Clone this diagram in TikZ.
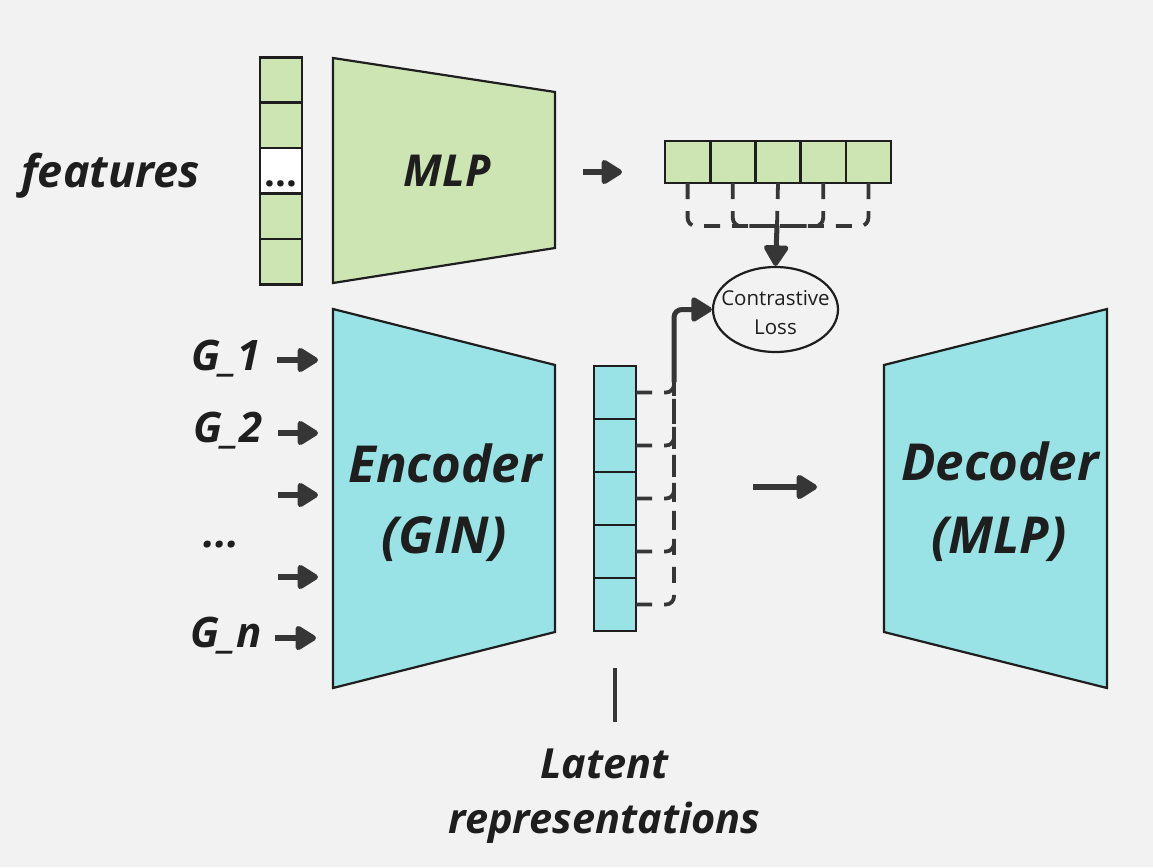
\documentclass[tikz,border=0pt]{standalone}
\usepackage{fontspec}
\setmainfont{Open Sans}
\usetikzlibrary{arrows.meta,shapes.geometric}
\definecolor{bg}{HTML}{F2F2F2}
\definecolor{grn}{HTML}{CDE5B3}
\definecolor{cyn}{HTML}{99E3E6}
\definecolor{ink}{HTML}{1E1E1E}
\definecolor{arr}{HTML}{363636}
\tikzset{
  trap/.style={draw=ink, line width=2.2pt, line join=miter},
  cellg/.style={draw=ink, fill=grn, line width=2.6pt, minimum width=42, minimum height=45.4, inner sep=0, outer sep=0},
  cellr/.style={draw=ink, fill=grn, line width=2.6pt, minimum width=45.2, minimum height=42, inner sep=0, outer sep=0},
  cellc/.style={draw=ink, fill=cyn, line width=2.6pt, minimum width=42, minimum height=53, inner sep=0, outer sep=0},
  tip/.style={-{Triangle[length=23pt,width=27pt,round]}},
  bigarrow/.style={draw=arr, line width=5.4pt, tip},
  dsh/.style={draw=arr, line width=3.8pt, dash pattern=on 16pt off 12pt, rounded corners=8pt},
  lbl/.style={inner sep=0, anchor=base, text=ink, font=\bfseries\itshape},
}
\begin{document}
\begin{tikzpicture}[x=1pt,y=-1pt]
\fill[bg] (0,0) rectangle (1153,867);
\useasboundingbox (0,0) rectangle (1153,867);

% MLP trapezoid
\filldraw[trap, fill=grn] (333,58) -- (555,92) -- (555,248) -- (333,283) -- cycle;
\node[lbl, font=\fontsize{44}{50}\selectfont\bfseries\itshape] (mlp) at (447,186) {MLP};

% feature column
\node[cellg] (f1) at (281,80) {};
\node[cellg] (f2) at (281,125.4) {};
\node[cellg, fill=white] (f3) at (281,170.8) {};
\node[cellg] (f4) at (281,216.2) {};
\node[cellg] (f5) at (281,261.6) {};
\node[lbl, font=\fontsize{38}{38}\selectfont\bfseries, anchor=base] (fdots) at (281,186) {...};
\node[lbl, anchor=base west, font=\fontsize{45}{50}\selectfont\bfseries\itshape] (feat) at (21,187) {features};

% output row
\node[cellr] (r1) at (687.6,162) {};
\node[cellr] (r2) at (732.8,162) {};
\node[cellr] (r3) at (778,162) {};
\node[cellr] (r4) at (823.2,162) {};
\node[cellr] (r5) at (868.4,162) {};
\coordinate (mlpout) at (583,172);
\coordinate (rowin) at (622,172);
\draw[bigarrow] (mlpout) -- (rowin);

% contrastive loss
\node[ellipse, draw=ink, line width=2.2pt, fill=bg, minimum width=125, minimum height=85, inner sep=0] (loss) at (775.5,309.5) {};
\node[inner sep=0, anchor=base, font=\fontsize{20.5}{24}\selectfont, text=ink] (lossA) at (775.5,305) {Contrastive};
\node[inner sep=0, anchor=base, font=\fontsize{20.5}{24}\selectfont, text=ink] (lossB) at (775.5,334) {Loss};

\coordinate (rm) at (777,226);
\draw[dsh] (r1.south) |- (rm);
\draw[dsh] (r2.south) |- (rm);
\draw[dsh] (r3.south) -- (rm);
\draw[dsh] (r4.south) |- (rm);
\draw[dsh] (r5.south) |- (rm);
\draw[draw=arr, line width=5pt, tip] (rm) -- (loss.north);

% encoder
\filldraw[trap, fill=cyn] (333,309) -- (555,365) -- (555,632) -- (333,688) -- cycle;
\node[lbl, font=\fontsize{51}{56}\selectfont\bfseries\itshape] (encA) at (445,482) {Encoder};
\node[lbl, font=\fontsize{51}{56}\selectfont\bfseries\itshape] (encB) at (444,553) {(GIN)};

% decoder
\filldraw[trap, fill=cyn] (884,365) -- (1107,309) -- (1107,688) -- (884,632) -- cycle;
\node[lbl, font=\fontsize{51}{56}\selectfont\bfseries\itshape] (decA) at (1000,480) {Decoder};
\node[lbl, font=\fontsize{51}{56}\selectfont\bfseries\itshape] (decB) at (999,553) {(MLP)};

% graph inputs
\node[lbl, anchor=base east, font=\fontsize{42}{44}\selectfont\bfseries\itshape] (g1) at (261,370) {G\_1};
\node[lbl, anchor=base east, font=\fontsize{42}{44}\selectfont\bfseries\itshape] (g2) at (263,442) {G\_2};
\node[lbl, anchor=base east, font=\fontsize{42}{44}\selectfont\bfseries\itshape] (gd) at (240,547) {...};
\node[lbl, anchor=base east, font=\fontsize{42}{44}\selectfont\bfseries\itshape] (gn) at (262,647) {G\_n};
\coordinate (a1s) at (277,360); \coordinate (a1e) at (318,360);
\coordinate (a2s) at (278,433); \coordinate (a2e) at (318,433);
\coordinate (a3s) at (278,495); \coordinate (a3e) at (318,495);
\coordinate (a4s) at (278,577); \coordinate (a4e) at (318,577);
\coordinate (a5s) at (275,638); \coordinate (a5e) at (316,638);
\draw[bigarrow] (a1s) -- (a1e);
\draw[bigarrow] (a2s) -- (a2e);
\draw[bigarrow] (a3s) -- (a3e);
\draw[bigarrow] (a4s) -- (a4e);
\draw[bigarrow] (a5s) -- (a5e);

% latent column
\node[cellc] (l1) at (615,392.5) {};
\node[cellc] (l2) at (615,445.5) {};
\node[cellc] (l3) at (615,498.5) {};
\node[cellc] (l4) at (615,551.5) {};
\node[cellc] (l5) at (615,604.5) {};
\coordinate (lm) at (674,382);
\draw[dsh] (l1.east) -| (lm);
\draw[dsh] (l2.east) -| (lm);
\draw[dsh] (l3.east) -| (lm);
\draw[dsh] (l4.east) -| (lm);
\draw[dsh] (l5.east) -| (lm);
\draw[draw=arr, line width=5pt, rounded corners=8pt, tip] (lm) |- (loss.west);

% encoder -> decoder
\coordinate (ed1) at (753,487); \coordinate (ed2) at (817,487);
\draw[bigarrow] (ed1) -- (ed2);

% latent label
\coordinate (lt1) at (615,668); \coordinate (lt2) at (615,722);
\draw[draw=arr, line width=3.6pt] (lt1) -- (lt2);
\node[lbl, font=\fontsize{41.5}{48}\selectfont\bfseries\itshape] (latA) at (604.5,778) {Latent};
\node[lbl, font=\fontsize{41.5}{48}\selectfont\bfseries\itshape] (latB) at (604.5,833) {representations};
\end{tikzpicture}
\end{document}
